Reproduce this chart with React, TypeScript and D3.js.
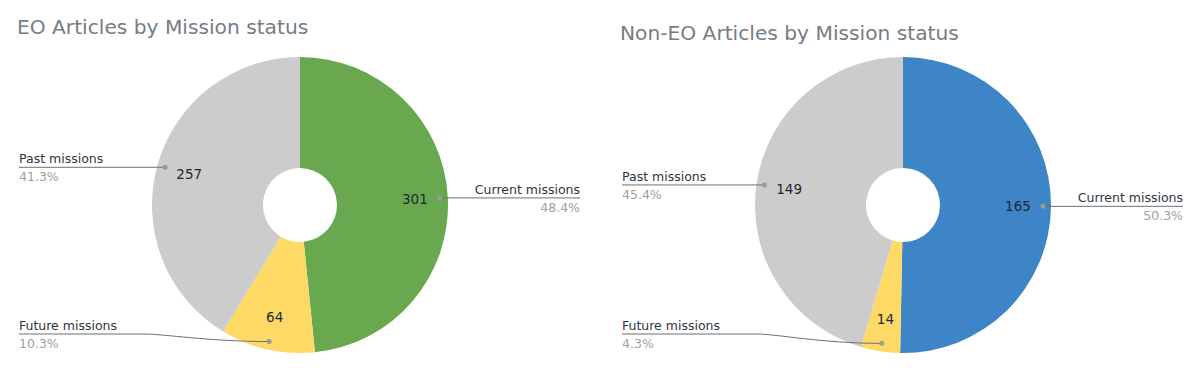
import React from "react";
import * as d3 from "d3";

const categories = ["Current missions", "Future missions", "Past missions"];
const eoValues = [301, 64, 257];
const nonEoValues = [165, 14, 149];
const titles = ["EO Articles by Mission status", "Non-EO Articles by Mission status"];
const eoColors = ["#6aa84f", "#ffd966", "#cccccc"];
const nonEoColors = ["#3d85c6", "#ffd966", "#cccccc"];

const W = 1200;
const H = 371;
const FONT = "'DejaVu Sans', Verdana, sans-serif";

type PanelProps = {
  x0: number;
  title: string;
  titleY: number;
  values: number[];
  colors: string[];
};

function Panel({ x0, title, titleY, values, colors }: PanelProps) {
  const cx = x0 + 300;
  const cy = 205;
  const rOut = 148;
  const rIn = 37;
  const total = d3.sum(values);
  const pie = d3.pie<number>().sort(null).value((d) => d);
  const arcs = pie(values);
  const arc = d3.arc<d3.PieArcDatum<number>>().innerRadius(rIn).outerRadius(rOut);
  const pct = d3.format(".1%");
  const leftX = x0 + 19;
  const rightX = x0 + 580;
  const maxLabelY = 334;

  return (
    <g>
      <text x={x0 + 17} y={titleY} fontFamily={FONT} fontSize={20.2} fill="#757c84">
        {title}
      </text>
      <g transform={`translate(${cx},${cy})`}>
        {arcs.map((a, i) => (
          <path key={i} d={arc(a) || ""} fill={colors[i]} />
        ))}
      </g>
      {arcs.map((a, i) => {
        const mid = (a.startAngle + a.endAngle) / 2;
        const sx = Math.sin(mid);
        const sy = -Math.cos(mid);
        const tx = cx + sx * 115;
        const ty = cy + sy * 115;
        const dx = cx + sx * 140;
        const dy = cy + sy * 140;
        const right = sx > 0;
        const ly = Math.min(dy, maxLabelY);
        let path: string;
        if (Math.abs(ly - dy) < 0.5) {
          path = `M${right ? rightX : leftX},${ly}L${dx},${dy}`;
        } else {
          const bx = right ? dx + 125 : dx - 125;
          const c1 = right ? dx + 105 : dx - 105;
          const c2 = right ? dx + 60 : dx - 60;
          path = `M${right ? rightX : leftX},${ly}L${bx},${ly}C${c1},${ly} ${c2},${dy} ${dx},${dy}`;
        }
        return (
          <g key={i}>
            <text
              x={tx}
              y={ty + 5}
              textAnchor="middle"
              fontFamily={FONT}
              fontSize={13.5}
              fill="#1f2933"
            >
              {values[i]}
            </text>
            <path d={path} fill="none" stroke="#6f6f6f" strokeWidth={1} />
            <circle cx={dx} cy={dy} r={2.5} fill="#9a9a9a" />
            <text
              x={right ? rightX : leftX}
              y={ly - 4}
              textAnchor={right ? "end" : "start"}
              fontFamily={FONT}
              fontSize={12.5}
              fill="#2b3540"
            >
              {categories[i]}
            </text>
            <text
              x={right ? rightX : leftX}
              y={ly + 14}
              textAnchor={right ? "end" : "start"}
              fontFamily={FONT}
              fontSize={12.5}
              fill="#a0a0a0"
            >
              {pct(values[i] / total)}
            </text>
          </g>
        );
      })}
    </g>
  );
}

export default function App() {
  return (
    <svg
      width={W}
      height={H}
      style={{ position: "absolute", left: 0, top: 0, background: "#fff" }}
    >
      <Panel x0={0} title={titles[0]} titleY={34} values={eoValues} colors={eoColors} />
      <Panel x0={603} title={titles[1]} titleY={40} values={nonEoValues} colors={nonEoColors} />
    </svg>
  );
}
